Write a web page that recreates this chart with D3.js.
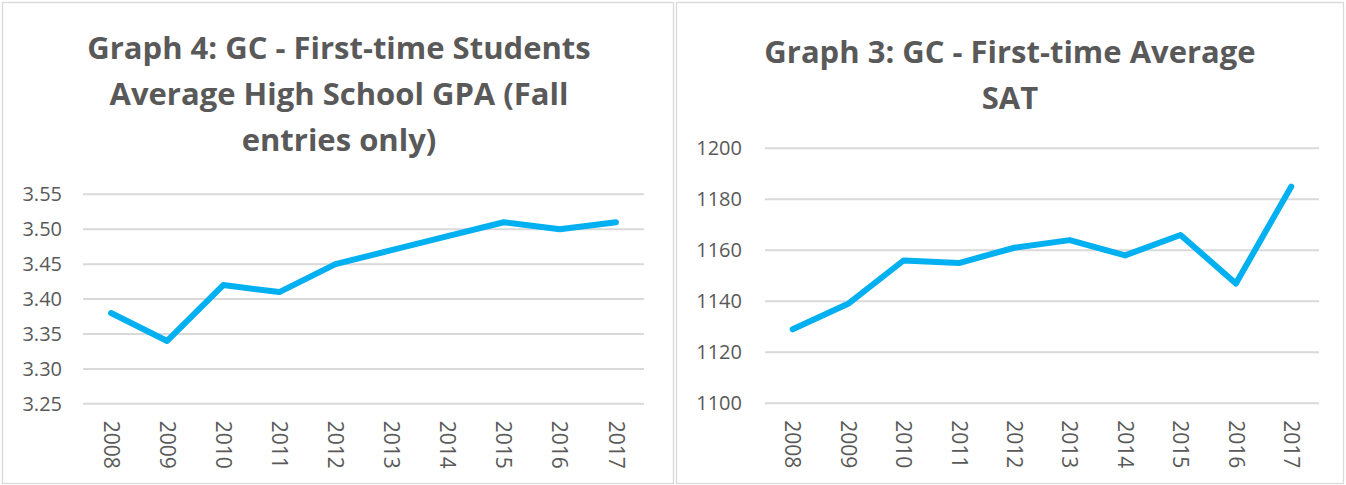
<!DOCTYPE html>
<html>
<head>
<meta charset="utf-8">
<script src="https://cdn.jsdelivr.net/npm/d3@7"></script>
<style>
  body { margin: 0; background: #fff; }
  .title { font-family: "Open Sans", sans-serif; font-weight: bold; font-size: 31px; fill: #595959; }
  .yAxis text { font-family: "Open Sans", sans-serif; font-size: 20px; fill: #595959; }
  .xAxis text { font-family: "Open Sans", sans-serif; font-size: 21px; fill: #595959; }
  .grid line { stroke: #d9d9d9; stroke-width: 2; }
  .line { fill: none; stroke: #00b0f0; stroke-width: 6; stroke-linejoin: round; stroke-linecap: round; }
</style>
</head>
<body>
<div id="vis1"></div>
<script>
var years = ["2008", "2009", "2010", "2011", "2012", "2013", "2014", "2015", "2016", "2017"];
var gpaValues = [3.38, 3.34, 3.42, 3.41, 3.45, 3.47, 3.49, 3.51, 3.50, 3.51];
var satValues = [1129, 1139, 1156, 1155, 1161, 1164, 1158, 1166, 1147, 1185];
var gpaTicks = [3.25, 3.30, 3.35, 3.40, 3.45, 3.50, 3.55];
var satTicks = [1100, 1120, 1140, 1160, 1180, 1200];
var gpaTitle = ["Graph 4: GC - First-time Students", "Average High School GPA (Fall", "entries only)"];
var satTitle = ["Graph 3: GC - First-time Average", "SAT"];

var svg = d3.select("#vis1").append("svg")
    .attr("width", 1346)
    .attr("height", 485);

// panel borders
svg.append("rect").attr("x", 2.5).attr("y", 2.5).attr("width", 671).attr("height", 481)
    .attr("fill", "none").attr("stroke", "#d9d9d9").attr("stroke-width", 1.3);
svg.append("rect").attr("x", 676.5).attr("y", 2.5).attr("width", 667).attr("height", 481)
    .attr("fill", "none").attr("stroke", "#d9d9d9").attr("stroke-width", 1.3);

function drawChart(opt) {
    var g = svg.append("g");

    var xScale = d3.scaleBand()
        .domain(years)
        .range([opt.left, opt.right]);

    var yScale = d3.scaleLinear()
        .domain(opt.domain)
        .range([opt.bottom, opt.top]);

    // gridlines
    g.append("g")
        .attr("class", "grid")
        .selectAll("line")
        .data(opt.ticks)
        .enter().append("line")
        .attr("x1", opt.left)
        .attr("x2", opt.right)
        .attr("y1", function(d) { return yScale(d); })
        .attr("y2", function(d) { return yScale(d); });

    // y axis labels
    var yAxis = d3.axisLeft(yScale)
        .tickValues(opt.ticks)
        .tickFormat(opt.format)
        .tickSize(0)
        .tickPadding(opt.left - opt.labelRight);

    g.append("g")
        .classed("yAxis", true)
        .attr("transform", "translate(" + opt.left + ",0)")
        .call(yAxis)
        .selectAll(".domain").remove();

    // x axis labels, rotated
    var xAxis = d3.axisBottom(xScale).tickSize(0).tickPadding(0);
    var xg = g.append("g")
        .classed("xAxis", true)
        .attr("transform", "translate(0," + opt.bottom + ")")
        .call(xAxis);
    xg.selectAll(".domain").remove();
    xg.selectAll("text")
        .attr("y", 0)
        .attr("x", 0)
        .attr("dy", "0.35em")
        .attr("text-anchor", "start")
        .attr("transform", "translate(0,17) rotate(90)");

    var line = d3.line()
        .x(function(d, i) { return xScale(years[i]) + xScale.bandwidth() / 2; })
        .y(function(d) { return yScale(d); });

    g.append("path")
        .datum(opt.values)
        .attr("class", "line")
        .attr("d", line);

    g.selectAll(".title")
        .data(opt.title)
        .enter().append("text")
        .attr("class", "title")
        .attr("x", opt.titleX)
        .attr("y", function(d, i) { return opt.titleY + i * 46; })
        .attr("text-anchor", "middle")
        .text(function(d) { return d; });
}

drawChart({
    values: gpaValues, ticks: gpaTicks, domain: [3.25, 3.55],
    format: d3.format(".2f"),
    left: 83, right: 644, top: 194.3, bottom: 403.8, labelRight: 62,
    title: gpaTitle, titleX: 339, titleY: 59
});

drawChart({
    values: satValues, ticks: satTicks, domain: [1100, 1200],
    format: d3.format("d"),
    left: 765, right: 1319, top: 148.3, bottom: 403.3, labelRight: 742,
    title: satTitle, titleX: 1010, titleY: 63
});
</script>
</body>
</html>
